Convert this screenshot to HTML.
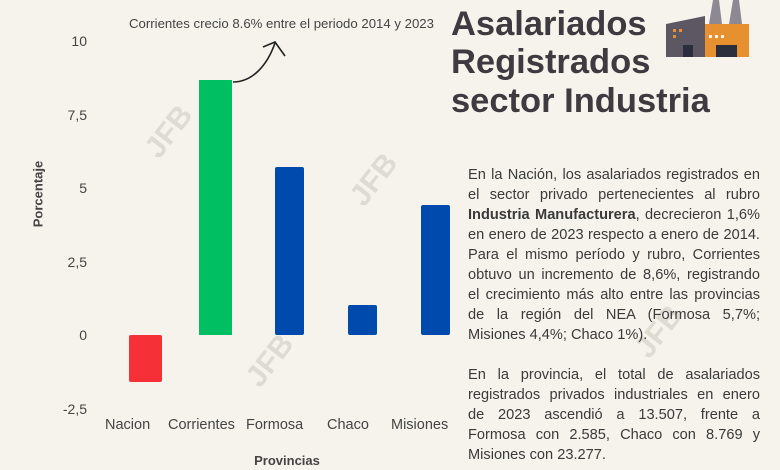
<!DOCTYPE html>
<html><head><meta charset="utf-8">
<style>
html,body{margin:0;padding:0;}
body{width:780px;height:470px;background:#f6f3ec;position:relative;overflow:hidden;font-family:"Liberation Sans",Arial,sans-serif;}
.abs{position:absolute;}
.tick{position:absolute;right:693px;font-size:14px;color:#444;line-height:16px;text-align:right;}
.cat{position:absolute;font-size:14.5px;color:#444;line-height:16px;white-space:nowrap;}
.bar{position:absolute;border-radius:2px;}
.wm{position:absolute;font-size:30px;font-weight:bold;color:#dfdbd3;transform:rotate(-52deg);line-height:30px;white-space:nowrap;}
.title{position:absolute;left:451px;font-size:34.5px;font-weight:bold;color:#3e3b40;line-height:38.5px;white-space:nowrap;}
.para{position:absolute;left:468px;width:292px;font-size:14.6px;color:#3a3a3a;line-height:20px;}
.para div{text-align:justify;text-align-last:justify;white-space:nowrap;height:20px;}
.para div.l{text-align-last:left;}
</style></head><body>

<!-- watermarks -->
<div class="wm" style="left:141px;top:117px;">JFB</div>
<div class="wm" style="left:346px;top:165px;">JFB</div>
<div class="wm" style="left:242px;top:346px;">JFB</div>
<div class="wm" style="left:631px;top:317px;">JFB</div>

<!-- y ticks -->
<div class="tick" style="top:33px;">10</div>
<div class="tick" style="top:107px;">7,5</div>
<div class="tick" style="top:180px;">5</div>
<div class="tick" style="top:254px;">2,5</div>
<div class="tick" style="top:327px;">0</div>
<div class="tick" style="top:401px;">-2,5</div>

<div class="abs" style="left:38px;top:194px;transform:translate(-50%,-50%) rotate(-90deg);font-size:13px;font-weight:bold;color:#444;white-space:nowrap;">Porcentaje</div>

<!-- bars -->
<div class="bar" style="left:129px;top:335px;width:33px;height:47px;background:#f53137;"></div>
<div class="bar" style="left:199px;top:80px;width:33px;height:255px;background:#00bf63;border-radius:0;"></div>
<div class="bar" style="left:275px;top:167px;width:29px;height:168px;background:#004aad;"></div>
<div class="bar" style="left:348px;top:305px;width:29px;height:30px;background:#004aad;"></div>
<div class="bar" style="left:421px;top:205px;width:29px;height:130px;background:#004aad;"></div>

<!-- categories -->
<div class="cat" style="left:105px;top:417px;">Nacion</div>
<div class="cat" style="left:168px;top:417px;">Corrientes</div>
<div class="cat" style="left:246px;top:417px;">Formosa</div>
<div class="cat" style="left:327px;top:417px;">Chaco</div>
<div class="cat" style="left:391px;top:417px;">Misiones</div>

<div class="abs" style="left:287px;top:453px;transform:translateX(-50%);font-size:13px;font-weight:bold;color:#444;white-space:nowrap;">Provincias</div>

<!-- annotation -->
<div class="abs" style="left:129px;top:16px;font-size:13.2px;color:#444;white-space:nowrap;">Corrientes crecio 8.6% entre el periodo 2014 y 2023</div>
<svg class="abs" style="left:0;top:0;" width="780" height="470">
<path d="M233,82 C252,82 267,66 275,43" fill="none" stroke="#222" stroke-width="1.6"/>
<path d="M263,47 L275,42 L285,56" fill="none" stroke="#222" stroke-width="1.6"/>
<!-- factory icon -->
<polygon points="709,24 713,0 719,0 722,24" fill="#8d8993"/>
<polygon points="729,24 733,0 739,0 742,24" fill="#8d8993"/>
<polygon points="666,24 705,16 705,57 666,57" fill="#5d5763"/>
<rect x="705" y="24" width="44" height="33" fill="#e6902f"/>
<rect x="673" y="29" width="3" height="3" fill="#e6902f"/>
<rect x="679" y="29" width="3" height="3" fill="#e6902f"/>
<rect x="673" y="35" width="3" height="3" fill="#e6902f"/>
<rect x="683" y="45" width="10" height="12" fill="#2a2e3d"/>
<rect x="709" y="35" width="3" height="3" fill="#f6f3ec"/>
<rect x="715" y="35" width="3" height="3" fill="#f6f3ec"/>
<rect x="721" y="35" width="3" height="3" fill="#f6f3ec"/>
<rect x="716" y="45" width="21" height="12" fill="#2a2e3d"/>
</svg>

<!-- title -->
<div class="title" style="top:4.5px;">Asalariados</div>
<div class="title" style="top:42.5px;">Registrados</div>
<div class="title" style="top:81.5px;">sector Industria</div>

<!-- paragraph -->
<div class="para" style="top:165px;">
<div>En la Nación, los asalariados registrados en</div>
<div>el sector privado pertenecientes al rubro</div>
<div><b>Industria Manufacturera</b>, decrecieron 1,6%</div>
<div>en enero de 2023 respecto a enero de 2014.</div>
<div>Para el mismo período y rubro, Corrientes</div>
<div>obtuvo un incremento de 8,6%, registrando</div>
<div>el crecimiento más alto entre las provincias</div>
<div>de la región del NEA (Formosa 5,7%;</div>
<div class="l">Misiones 4,4%; Chaco 1%).</div>
<div class="l"></div>
<div>En la provincia, el total de asalariados</div>
<div>registrados privados industriales en enero</div>
<div>de 2023 ascendió a 13.507, frente a</div>
<div>Formosa con 2.585, Chaco con 8.769 y</div>
<div class="l">Misiones con 23.277.</div>
</div>

</body></html>
